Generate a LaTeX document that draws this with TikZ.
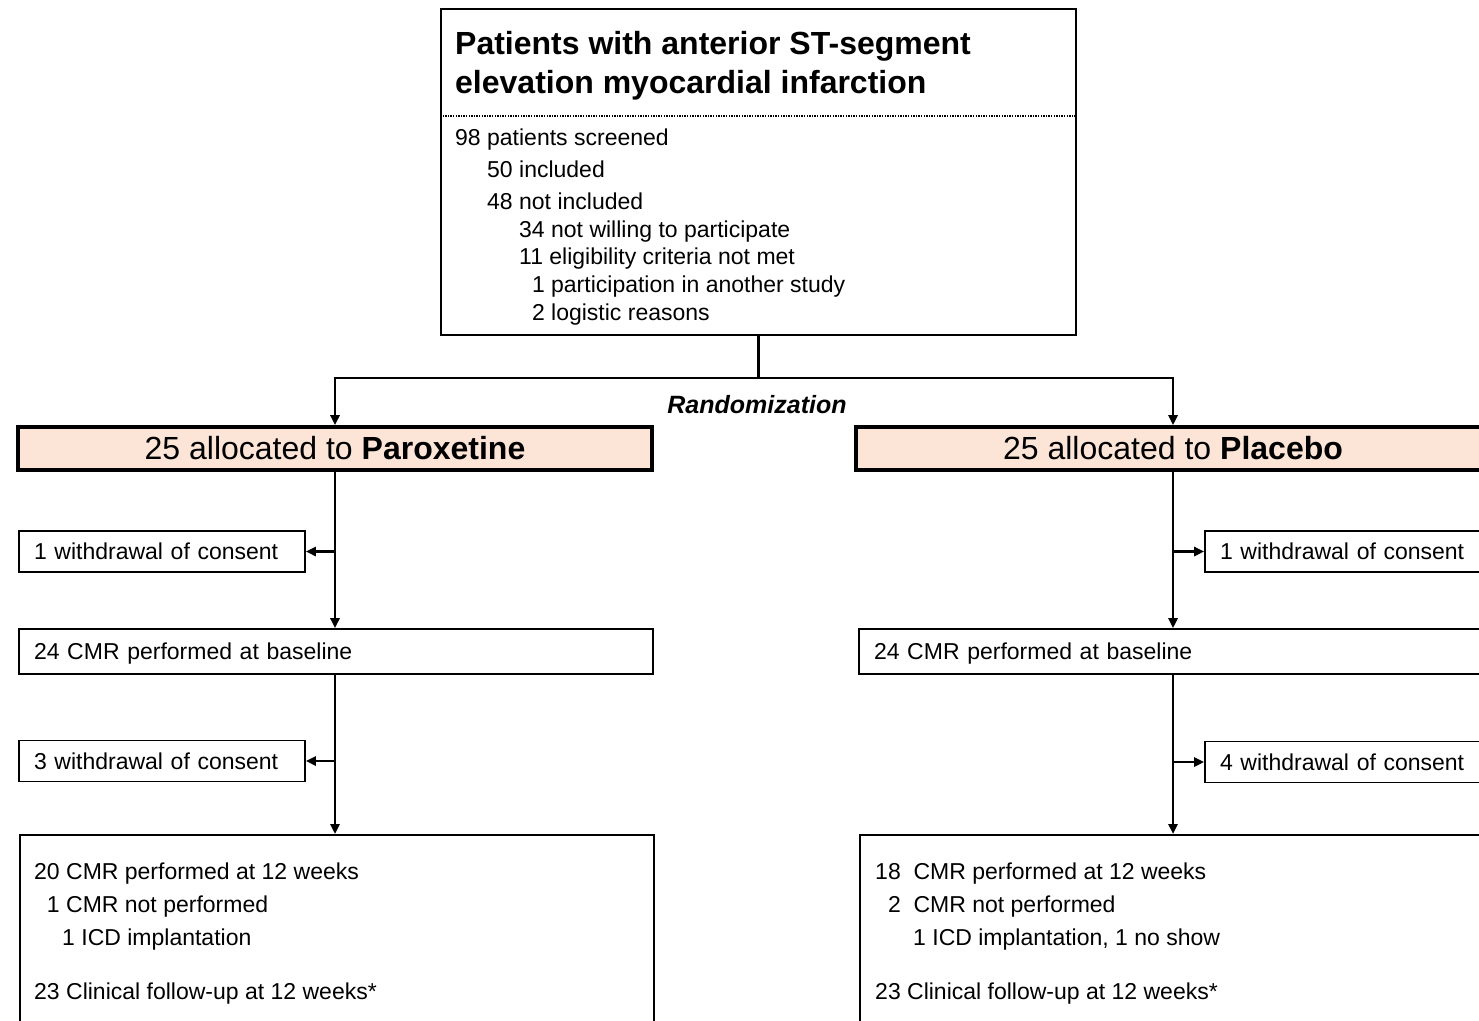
\documentclass[tikz,border=0pt]{standalone}
\usepackage{fontspec}
\setmainfont{Liberation Sans}
\usepackage{xcolor}
\usetikzlibrary{arrows.meta,positioning,calc}
\definecolor{peach}{RGB}{252,228,214}

\begin{document}
\begin{tikzpicture}[x=1pt,y=-1pt]
\tikzstyle{frame}=[draw,line width=1.6pt,inner sep=0pt,outer sep=0.8pt]
\tikzstyle{alloc}=[draw,line width=3.6pt,fill=peach,inner sep=0pt,outer sep=1.8pt,minimum width=634pt,minimum height=43pt,text height=22pt,text depth=0pt,font=\fontsize{32}{38}\selectfont]
\tikzstyle{sidebox}=[frame,minimum width=286pt,minimum height=41pt,text width=256pt,align=left,text height=16.5pt,text depth=0pt,font=\fontsize{23}{28}\selectfont]
\tikzstyle{widebox}=[frame,minimum width=634pt,minimum height=45pt,text width=604pt,align=left,text height=16.5pt,text depth=0pt,font=\fontsize{23}{28}\selectfont]
\tikzstyle{txt}=[anchor=base west,inner sep=0pt,font=\fontsize{23}{28}\selectfont]
\tikzstyle{ttl}=[anchor=base west,inner sep=0pt,font=\fontsize{32}{38}\selectfont\bfseries]
\tikzstyle{conn}=[line width=2.6pt]
\tikzstyle{arr}=[conn,-{Triangle[length=10pt,width=9pt]}]

\useasboundingbox (0,0) rectangle (1479,1020);
\clip (0,0) rectangle (1479,1020);

% screening box
\node[frame,anchor=north west,minimum width=635pt,minimum height=326pt] (screen) at (440,8) {};
\node[ttl] (ttl1) at (455,54) {Patients with anterior ST-segment};
\node[ttl] (ttl2) at (455,93) {elevation myocardial infarction};
\draw[line width=1.5pt,dash pattern=on 1.3pt off 1.3pt] (screen.west |- 0,116) -- (screen.east |- 0,116);
\foreach \x/\y/\t [count=\i] in {455/145/{98 patients screened},
                                  487/177/{50 included},
                                  487/209/{48 not included},
                                  519/237/{34 not willing to participate},
                                  519/264/{11 eligibility criteria not met},
                                  519/292/{\phantom{1}1 participation in another study},
                                  519/320/{\phantom{1}2 logistic reasons}}
  \node[txt] (scr\i) at (\x,\y) {\t};

% the two arms
\node[alloc] (paro) at (335,448.5) {25 allocated to \textbf{Paroxetine}};
\node[alloc] (plac) at (1173,448.5) {25 allocated to \textbf{Placebo}};
\node[anchor=base,inner sep=0pt,font=\fontsize{25}{30}\selectfont\bfseries\itshape] (rand) at (757,413) {Randomization};

\draw[conn] (screen.south) -- (screen.south |- 0,378) coordinate (split);
\draw[arr] (split) -| (paro.north);
\draw[arr] (split) -| (plac.north);

% paroxetine arm
\node[sidebox] (wdA) at (162,551.5) {1 withdrawal of consent};
\node[widebox] (baseA) at (336,651.5) {24 CMR performed at baseline};
\node[sidebox] (wdB) at (162,761) {3 withdrawal of consent};
\node[frame,anchor=north west,minimum width=634pt,minimum height=220pt] (endA) at (19,834) {};
\node[txt] (endA1) at (34,879) {20 CMR performed at 12 weeks};
\node[txt] (endA2) at (34,912) {\phantom{2}1 CMR not performed};
\node[txt] (endA3) at (34,945) {\hspace*{28pt}1 ICD implantation};
\node[txt] (endA4) at (34,999) {23 Clinical follow-up at 12 weeks*};

\draw[arr] (paro.south) -- (paro.south |- baseA.north);
\draw[arr] (paro.south |- wdA.east) -- (wdA.east);
\draw[arr] (paro.south |- baseA.south) -- (paro.south |- endA.north);
\draw[arr] (paro.south |- wdB.east) -- (wdB.east);

% placebo arm
\node[sidebox] (wdC) at (1348,551.5) {1 withdrawal of consent};
\node[widebox] (baseB) at (1176,651.5) {24 CMR performed at baseline};
\node[sidebox] (wdD) at (1348,762) {4 withdrawal of consent};
\node[frame,anchor=north west,minimum width=634pt,minimum height=220pt] (endB) at (859,834) {};
\node[txt] (endB1) at (875,879) {18\ \ CMR performed at 12 weeks};
\node[txt] (endB2) at (875,912) {\phantom{1}2\ \ CMR not performed};
\node[txt] (endB3) at (913,945) {1 ICD implantation, 1 no show};
\node[txt] (endB4) at (875,999) {23 Clinical follow-up at 12 weeks*};

\draw[arr] (plac.south) -- (plac.south |- baseB.north);
\draw[arr] (plac.south |- wdC.west) -- (wdC.west);
\draw[arr] (plac.south |- baseB.south) -- (plac.south |- endB.north);
\draw[arr] (plac.south |- wdD.west) -- (wdD.west);
\end{tikzpicture}
\end{document}
